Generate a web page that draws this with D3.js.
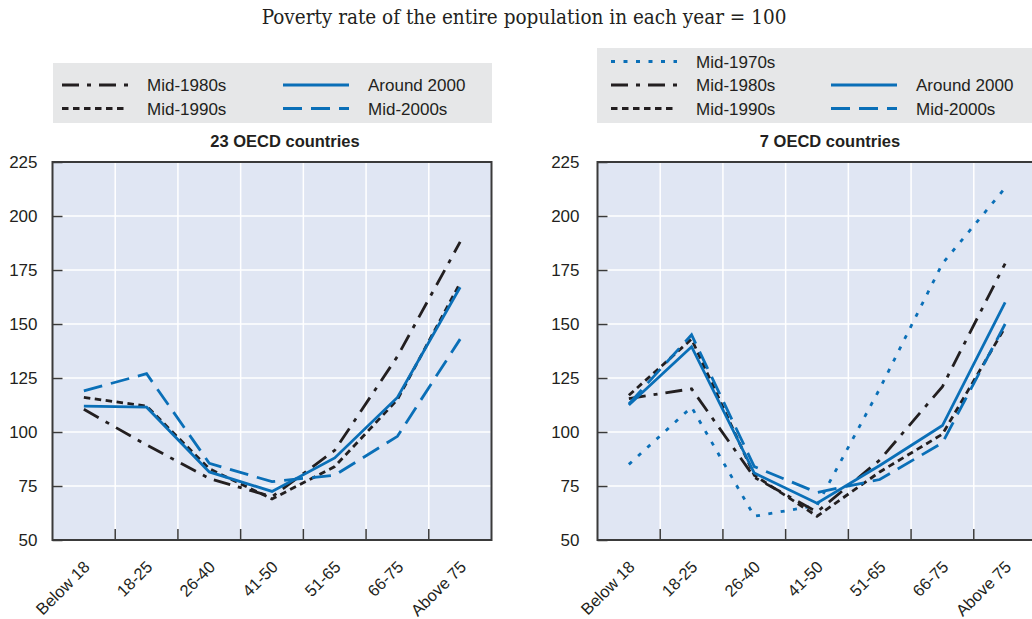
<!DOCTYPE html>
<html>
<head>
<meta charset="utf-8">
<script src="https://cdn.jsdelivr.net/npm/d3@7"></script>
<style>
  html, body { margin: 0; padding: 0; background: #ffffff; }
  svg { display: block; }
  text { fill: #231f20; }
</style>
</head>
<body>
<svg id="chart" width="1032" height="619"></svg>
<script>
// Age groups along the x axis
const categories = ["Below 18", "18-25", "26-40", "41-50", "51-65", "66-75", "Above 75"];
const yTicks = [50, 75, 100, 125, 150, 175, 200, 225];

// 23 OECD countries
const oecd23Mid1980s   = [110.5, 94, 78.5, 70, 91.5, 135, 188];
const oecd23Mid1990s   = [116, 112, 83, 69, 84, 115, 169];
const oecd23Around2000 = [112, 111.5, 81.5, 72.5, 88, 116, 167];
const oecd23Mid2000s   = [119, 127, 85.5, 77, 80, 98, 143];

// 7 OECD countries
const oecd7Mid1970s   = [85, 111.5, 61, 66, 120, 178, 213];
const oecd7Mid1980s   = [115.5, 120, 79, 63, 87, 121, 178];
const oecd7Mid1990s   = [117, 143, 80, 61, 81.5, 99, 148.5];
const oecd7Around2000 = [112.5, 139.5, 81, 67, 84.5, 103, 160];
const oecd7Mid2000s   = [113, 145, 84, 72, 78, 95, 150];

const BLUE = "#0a6fb7";
const BLACK = "#231f20";

// Line style for each period
const styles = {
  "Mid-1970s":   { color: BLUE,  dash: "4,8.5" },
  "Mid-1980s":   { color: BLACK, dash: "17,8,4,8" },
  "Mid-1990s":   { color: BLACK, dash: "6.5,4.5" },
  "Around 2000": { color: BLUE,  dash: null },
  "Mid-2000s":   { color: BLUE,  dash: "19,9" }
};

const svg = d3.select("#chart");
const FONT = "'Liberation Sans', Arial, Helvetica, sans-serif";

svg.append("text")
  .attr("x", 524).attr("y", 24)
  .attr("text-anchor", "middle")
  .style("font-family", "'DejaVu Serif', serif")
  .style("font-stretch", "condensed")
  .style("font-size", "20.5px")
  .text("Poverty rate of the entire population in each year = 100");

function drawPanel(cfg) {
  const g = svg.append("g");
  const x = d3.scaleBand().domain(categories).range([cfg.x0, cfg.x1]).padding(0);
  const y = d3.scaleLinear().domain([50, 225]).range([540, 162]);
  const cx = c => x(c) + x.bandwidth() / 2;

  // legend box
  g.append("rect")
    .attr("x", cfg.legend.x).attr("y", cfg.legend.y)
    .attr("width", cfg.legend.w).attr("height", cfg.legend.h)
    .attr("fill", "#e6e7e8");

  cfg.legend.items.forEach(it => {
    const st = styles[it.name];
    g.append("line")
      .attr("x1", it.lx).attr("x2", it.lx + 66)
      .attr("y1", it.ly).attr("y2", it.ly)
      .attr("stroke", st.color).attr("stroke-width", 3)
      .attr("stroke-dasharray", st.dash);
    g.append("text")
      .attr("x", it.lx + 85).attr("y", it.ly)
      .attr("dy", "0.36em")
      .style("font-family", FONT).style("font-size", "17px")
      .text(it.name);
  });

  // panel title
  g.append("text")
    .attr("x", cfg.titleX).attr("y", 147)
    .attr("text-anchor", "middle")
    .style("font-family", FONT).style("font-size", "16.5px").style("font-weight", "bold")
    .text(cfg.title);

  // plot background
  g.append("rect")
    .attr("x", cfg.x0).attr("y", 162)
    .attr("width", cfg.x1 - cfg.x0).attr("height", 378)
    .attr("fill", "#e0e6f3");

  // grid
  g.selectAll(".hgrid").data(yTicks).enter().append("line")
    .attr("x1", cfg.x0).attr("x2", cfg.x1)
    .attr("y1", d => y(d)).attr("y2", d => y(d))
    .attr("stroke", "#ffffff").attr("stroke-width", 1.5);
  const inner = categories.slice(1);
  g.selectAll(".vgrid").data(inner).enter().append("line")
    .attr("x1", d => x(d)).attr("x2", d => x(d))
    .attr("y1", 162).attr("y2", 540)
    .attr("stroke", "#ffffff").attr("stroke-width", 1.5);

  // inward tick marks on the bottom axis, at band boundaries
  g.selectAll(".xtick").data(inner).enter().append("line")
    .attr("x1", d => x(d)).attr("x2", d => x(d))
    .attr("y1", 529).attr("y2", 540)
    .attr("stroke", "#3a3a3a").attr("stroke-width", 1.5);

  // y axis
  const yAxis = d3.axisLeft(y).tickValues(yTicks)
    .tickSizeInner(-10).tickSizeOuter(0).tickPadding(cfg.tickPad);
  const ya = g.append("g").attr("transform", `translate(${cfg.x0},0)`).call(yAxis);
  ya.select(".domain").remove();
  ya.selectAll("line").attr("stroke", "#3a3a3a").attr("stroke-width", 1.5);
  ya.selectAll("text")
    .style("font-family", FONT).style("font-size", "17px").attr("fill", BLACK);

  // x labels
  g.selectAll(".xlab").data(categories).enter().append("text")
    .attr("transform", d => `translate(${cx(d) + 7},${568}) rotate(-45)`)
    .attr("text-anchor", "end")
    .style("font-family", FONT).style("font-size", "16.5px")
    .text(d => d);

  // series
  const line = d3.line().x((v, i) => cx(categories[i])).y(v => y(v));
  cfg.series.forEach(s => {
    const st = styles[s.name];
    g.append("path")
      .datum(s.values)
      .attr("d", line)
      .attr("fill", "none")
      .attr("stroke", st.color)
      .attr("stroke-width", 2.8)
      .attr("stroke-dasharray", st.dash);
  });

  // frame
  g.append("rect")
    .attr("x", cfg.x0).attr("y", 162)
    .attr("width", cfg.x1 - cfg.x0).attr("height", 378)
    .attr("fill", "none").attr("stroke", "#3a3a3a").attr("stroke-width", 2);
}

drawPanel({
  x0: 52.5, x1: 491.5, tickPad: 15,
  title: "23 OECD countries", titleX: 285,
  legend: {
    x: 53, y: 63, w: 439, h: 60,
    items: [
      { name: "Mid-1980s", lx: 62, ly: 85 },
      { name: "Mid-1990s", lx: 62, ly: 108.5 },
      { name: "Around 2000", lx: 283, ly: 85 },
      { name: "Mid-2000s", lx: 283, ly: 108.5 }
    ]
  },
  series: [
    { name: "Mid-1980s", values: oecd23Mid1980s },
    { name: "Mid-1990s", values: oecd23Mid1990s },
    { name: "Around 2000", values: oecd23Around2000 },
    { name: "Mid-2000s", values: oecd23Mid2000s }
  ]
});

drawPanel({
  x0: 597.5, x1: 1036.5, tickPad: 18,
  title: "7 OECD countries", titleX: 830,
  legend: {
    x: 597, y: 48, w: 440, h: 75,
    items: [
      { name: "Mid-1970s", lx: 611, ly: 61.5 },
      { name: "Mid-1980s", lx: 611, ly: 85 },
      { name: "Mid-1990s", lx: 611, ly: 108.5 },
      { name: "Around 2000", lx: 831, ly: 85 },
      { name: "Mid-2000s", lx: 831, ly: 108.5 }
    ]
  },
  series: [
    { name: "Mid-1970s", values: oecd7Mid1970s },
    { name: "Mid-1980s", values: oecd7Mid1980s },
    { name: "Mid-1990s", values: oecd7Mid1990s },
    { name: "Around 2000", values: oecd7Around2000 },
    { name: "Mid-2000s", values: oecd7Mid2000s }
  ]
});
</script>
</body>
</html>
